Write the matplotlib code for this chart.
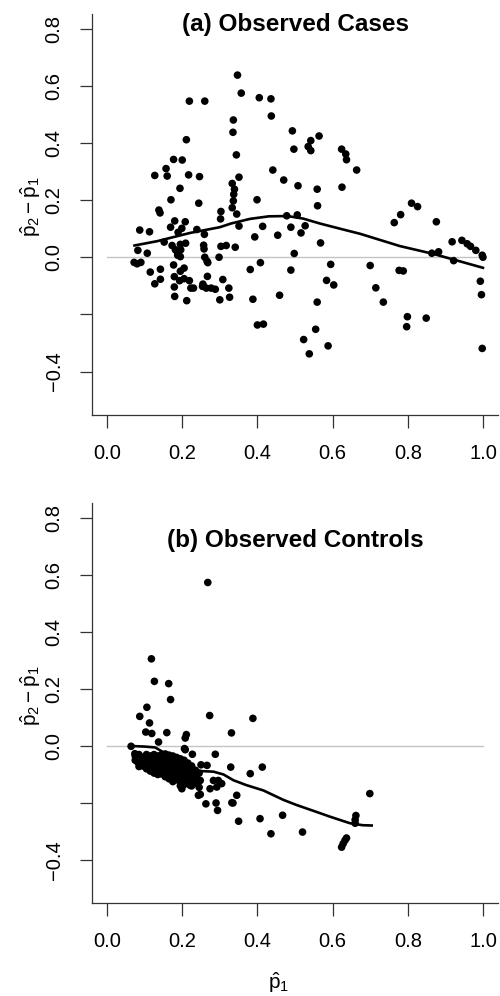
import matplotlib
matplotlib.use("Agg")
import matplotlib.pyplot as plt

plt.rcParams['font.family'] = ['Liberation Sans', 'DejaVu Sans']
plt.rcParams['mathtext.fontset'] = 'custom'
plt.rcParams['mathtext.rm'] = 'Liberation Sans'
plt.rcParams['mathtext.it'] = 'Liberation Sans'
plt.rcParams['mathtext.bf'] = 'Liberation Sans:bold'

# ---------------- data: panel (a) observed cases ----------------
cases_pts = [
    (.219, .546), (.260, .546), (.211, .411), (.177, .342), (.200, .340), (.157, .310),
    (.127, .286), (.160, .284), (.217, .288), (.246, .282), (.194, .241), (.170, .201),
    (.244, .189), (.138, .165), (.141, .155), (.303, .160), (.302, .134), (.087, .095),
    (.113, .089), (.169, .105), (.180, .127), (.208, .124), (.189, .087), (.199, .101),
    (.239, .097), (.259, .080), (.152, .053), (.173, .041), (.195, .045), (.209, .049),
    (.182, .026), (.187, .019), (.196, .026), (.257, .042), (.258, .029), (.303, .038),
    (.317, .041), (.082, .024), (.107, .014), (.188, .007), (.195, .002), (.298, .000),
    (.260, .000), (.266, -.014), (.072, -.018), (.080, -.023), (.090, -.018), (.177, -.027),
    (.115, -.052), (.142, -.042), (.195, -.049), (.205, -.038), (.268, -.019), (.267, -.067),
    (.127, -.093), (.142, -.077), (.179, -.068), (.205, -.075), (.193, -.082), (.219, -.082),
    (.223, -.108), (.230, -.108), (.179, -.104), (.254, -.102), (.264, -.108), (.277, -.108),
    (.288, -.112), (.255, -.094), (.308, -.078), (.180, -.137), (.212, -.152), (.300, -.149),
    (.324, -.108), (.326, -.140), (.388, -.147), (.459, -.133), (.400, -.237), (.416, -.234),
    (.347, .637), (.357, .574), (.405, .558), (.436, .554), (.437, .494), (.336, .480),
    (.335, .437), (.493, .442), (.542, .408), (.564, .424), (.535, .387), (.542, .373),
    (.497, .378), (.624, .378), (.635, .361), (.637, .341), (.664, .305), (.344, .358),
    (.441, .305), (.351, .280), (.470, .270), (.508, .250), (.559, .238), (.625, .245),
    (.333, .258), (.339, .238), (.337, .220), (.336, .197), (.333, .173), (.560, .180),
    (.399, .201), (.345, .151), (.478, .145), (.506, .148), (.351, .109), (.414, .108),
    (.489, .105), (.527, .110), (.516, .085), (.393, .071), (.454, .077), (.568, .050),
    (.341, .035), (.498, .013), (.408, -.019), (.381, -.043), (.489, -.045), (.595, -.025),
    (.559, -.157), (.584, -.081), (.603, -.097), (.715, -.107), (.735, -.157), (.799, -.208),
    (.797, -.243), (.849, -.213), (.555, -.252), (.523, -.288), (.588, -.310), (.538, -.338),
    (.993, -.084), (.996, -.131), (.998, -.319), (.810, .189), (.826, .177), (.781, .149),
    (.764, .121), (.876, .124), (.918, .054), (.944, .059), (.958, .047), (.967, .038),
    (.981, .024), (.998, .007), (1.000, .000), (.864, .014), (.882, .019), (.922, -.012),
    (.700, -.029), (.777, -.046), (.788, -.048),
]
cases_x = [p[0] for p in cases_pts]
cases_y = [p[1] for p in cases_pts]

cases_fit_x = [0.073, 0.133, 0.221, 0.300, 0.330, 0.380, 0.430, 0.480, 0.522, 0.566,
               0.619, 0.673, 0.779, 0.867, 1.000]
cases_fit_y = [0.041, 0.056, 0.085, 0.105, 0.118, 0.134, 0.143, 0.144, 0.135, 0.118,
               0.100, 0.082, 0.039, 0.012, -0.037]

# ---------------- data: panel (b) observed controls ----------------
controls_pts = [
    (.268, .574), (.118, .306), (.126, .227), (.164, .219), (.169, .163), (.106, .136),
    (.087, .104), (.113, .081), (.273, .107), (.388, .097), (.331, .046), (.159, .047),
    (.211, .040), (.208, .028), (.103, .049), (.119, .044), (.137, .014), (.206, -.009),
    (.227, -.029), (.288, -.029), (.329, -.074), (.413, -.074), (.381, -.097), (.250, -.066),
    (.266, -.068), (.064, -.001), (.074, -.027), (.081, -.056), (.699, -.167), (.345, -.173),
    (.248, -.170), (.263, -.203), (.290, -.200), (.294, -.226), (.332, -.199), (.350, -.264),
    (.407, -.255), (.467, -.243), (.436, -.308), (.520, -.302), (.662, -.244), (.660, -.259),
    (.660, -.271), (.624, -.355), (.628, -.343), (.633, -.331), (.637, -.323),
    (.199, -.150), (.221, -.138), (.248, -.121), (.243, -.173), (.274, -.150), (.292, -.144),
    (.305, -.132), (.296, -.121), (.283, -.121), (.211, -.062), (.208, -.013), (.335, -.200),
    # dense cluster
    (.075, -.035), (.075, -.050), (.085, -.030), (.085, -.060), (.085, -.072),
    (.095, -.040), (.095, -.055), (.095, -.070), (.105, -.030), (.105, -.048),
    (.105, -.065), (.105, -.080), (.115, -.035), (.115, -.055), (.115, -.072),
    (.115, -.088), (.125, -.030), (.125, -.045), (.125, -.062), (.125, -.080),
    (.125, -.095), (.135, -.035), (.135, -.052), (.135, -.070), (.135, -.088),
    (.135, -.100), (.145, -.030), (.145, -.048), (.145, -.065), (.145, -.082),
    (.145, -.098), (.155, -.028), (.155, -.042), (.155, -.060), (.155, -.078),
    (.155, -.095), (.155, -.108), (.165, -.032), (.165, -.050), (.165, -.068),
    (.165, -.085), (.165, -.102), (.165, -.115), (.175, -.035), (.175, -.055),
    (.175, -.075), (.175, -.092), (.175, -.110), (.175, -.125), (.185, -.040),
    (.185, -.060), (.185, -.080), (.185, -.098), (.185, -.118), (.195, -.045),
    (.195, -.065), (.195, -.085), (.195, -.105), (.195, -.128), (.195, -.140),
    (.205, -.050), (.205, -.072), (.205, -.095), (.205, -.115), (.205, -.135),
    (.215, -.060), (.215, -.082), (.215, -.105), (.215, -.125), (.225, -.070),
    (.225, -.095), (.225, -.118), (.225, -.140), (.235, -.085), (.235, -.108),
    (.235, -.130), (.245, -.095), (.245, -.120), (.245, -.145),
]
controls_x = [p[0] for p in controls_pts]
controls_y = [p[1] for p in controls_pts]

controls_fit_x = [0.064, 0.100, 0.128, 0.160, 0.190, 0.221, 0.250, 0.283, 0.310, 0.336,
                  0.370, 0.416, 0.469, 0.504, 0.550, 0.593, 0.646, 0.680, 0.704]
controls_fit_y = [0.000, -0.002, -0.005, -0.030, -0.060, -0.085, -0.088, -0.090, -0.100,
                  -0.120, -0.137, -0.156, -0.189, -0.207, -0.228, -0.248, -0.271, -0.278,
                  -0.279]

xticks = [0.0, 0.2, 0.4, 0.6, 0.8, 1.0]
xticklabels = ["0.0", "0.2", "0.4", "0.6", "0.8", "1.0"]
yticks = [-0.4, -0.2, 0.0, 0.2, 0.4, 0.6, 0.8]
yticklabels = ["\u22120.4", "", "0.0", "0.2", "0.4", "0.6", "0.8"]

titles = ["(a) Observed Cases", "(b) Observed Controls"]

fig = plt.figure(figsize=(5.0, 9.96), dpi=100)
ax_top = fig.add_axes([0.184, 0.5833, 0.812, 0.4030])
ax_bot = fig.add_axes([0.184, 0.0931, 0.812, 0.4016])

spine_col = "#333333"
panels = [
    (ax_top, cases_x, cases_y, cases_fit_x, cases_fit_y, titles[0], 0.974),
    (ax_bot, controls_x, controls_y, controls_fit_x, controls_fit_y, titles[1], 0.906),
]
for ax, xs, ys, fx, fy, title, ty in panels:
    ax.plot([0, 1], [0, 0], color="#c4c4c4", lw=1.0, zorder=1)
    ax.scatter(xs, ys, s=30, color="black", edgecolors="none", zorder=3)
    ax.plot(fx, fy, color="black", lw=1.9, zorder=4)
    ax.set_xlim(-0.04, 1.04)
    ax.set_ylim(-0.552, 0.852)
    ax.spines["top"].set_visible(False)
    ax.spines["right"].set_visible(False)
    for s in ("left", "bottom"):
        ax.spines[s].set_color(spine_col)
        ax.spines[s].set_linewidth(0.9)
    ax.set_xticks(xticks)
    ax.set_xticklabels(xticklabels)
    ax.set_yticks(yticks)
    ax.set_yticklabels(yticklabels, rotation=90, va="center")
    ax.tick_params(axis="x", length=9.5, width=0.9, color=spine_col, pad=11,
                   labelsize=14.5)
    ax.tick_params(axis="y", length=8.5, width=0.9, color=spine_col, pad=12,
                   labelsize=14.5)
    ax.text(0.5, ty, title, transform=ax.transAxes, ha="center", va="center",
            fontsize=17.5, fontweight="bold")
    ax.set_ylabel(r"$\hat{p}_2 - \hat{p}_1$", fontsize=15, va="center")
    ax.yaxis.set_label_coords(-0.152, 0.52)

ax_bot.set_xlabel(r"$\hat{p}_1$", fontsize=15, va="center")
ax_bot.xaxis.set_label_coords(0.46, -0.198)

fig.savefig("out.png", dpi=100)
